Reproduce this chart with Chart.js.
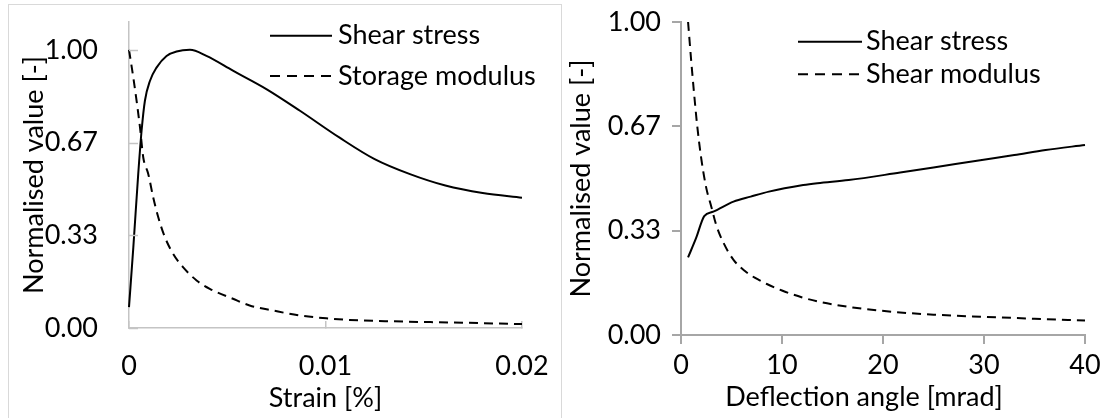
<!DOCTYPE html>
<html><head><meta charset="utf-8">
<script src="https://cdn.jsdelivr.net/npm/chart.js@4.4.0/dist/chart.umd.min.js"></script>
<style>
html,body{margin:0;padding:0;background:#fff;overflow:hidden;width:1104px;height:418px;}
#frame{position:absolute;left:8px;top:4px;width:552px;height:430px;border:1px solid #d9d9d9;border-bottom:none;}
#c1{position:absolute;left:0;top:0;}
#c2{position:absolute;left:560px;top:0;}
</style></head><body>
<div id="frame"></div>
<canvas id="c1" width="560" height="418"></canvas>
<canvas id="c2" width="544" height="418"></canvas>
<script>
// ---- Left panel data (strain sweep) ----
const strainStressX = [0, 0.00022, 0.00047, 0.00064, 0.00081, 0.00107, 0.0014, 0.00191, 0.00242, 0.0031, 0.00394, 0.00529, 0.00699, 0.0087, 0.0107, 0.0125, 0.0143, 0.0161, 0.018, 0.02];
const shearStressA  = [0.075, 0.29, 0.554, 0.709, 0.817, 0.889, 0.936, 0.978, 0.994, 1.0, 0.978, 0.925, 0.859, 0.781, 0.685, 0.607, 0.553, 0.512, 0.485, 0.468];
const strainModulusX = [0, 0.00022, 0.00056, 0.000726, 0.00098, 0.00123, 0.00149, 0.00183, 0.00225, 0.00276, 0.00344, 0.00411, 0.00529, 0.00614, 0.00733, 0.00868, 0.01004, 0.01122, 0.0134, 0.017, 0.02];
const storageModulus = [1.0, 0.9, 0.721, 0.613, 0.554, 0.47, 0.398, 0.326, 0.266, 0.218, 0.171, 0.141, 0.105, 0.081, 0.063, 0.045, 0.035, 0.029, 0.024, 0.019, 0.014];
const strainTicks = [0, 0.01, 0.02];
const strainTickLabels = ['0', '0.01', '0.02'];

// ---- Right panel data (deflection angle) ----
const angleStressX = [0.7, 1.5, 2.3, 3.2, 5.2, 6.9, 8.7, 12.1, 13.5, 16.6, 21.7, 25, 29.3, 33, 36.1, 40];
const shearStressB = [0.248, 0.31, 0.38, 0.394, 0.426, 0.442, 0.458, 0.479, 0.485, 0.495, 0.519, 0.535, 0.557, 0.575, 0.591, 0.607];
const angleModulusX = [0.7, 1.0, 1.3, 1.6, 2.0, 2.5, 3.0, 3.5, 4.2, 5.2, 6.3, 7.3, 8.5, 10, 12, 14, 17, 21, 25, 30, 35, 40];
const shearModulus  = [1.0, 0.88, 0.77, 0.67, 0.565, 0.47, 0.41, 0.35, 0.295, 0.24, 0.205, 0.183, 0.163, 0.142, 0.12, 0.104, 0.088, 0.074, 0.065, 0.058, 0.052, 0.046];
const angleTicks = [0, 10, 20, 30, 40];
const angleTickLabels = ['0', '10', '20', '30', '40'];

// ---- Shared y ticks ----
const yTickValues = [0, 0.3333, 0.6667, 1.0];
const yTickLabels = ['0.00', '0.33', '0.67', '1.00'];

const FONT = 'Lato';
const FS = 27;

const pts = (xs, ys) => xs.map((x, i) => ({x: x, y: ys[i]}));

const insideLegend = {
  id: 'insideLegend',
  afterDraw(chart, args, o) {
    const ctx = chart.ctx;
    ctx.save();
    chart.data.datasets.forEach((ds, i) => {
      const y = o.rows[i];
      ctx.beginPath();
      ctx.setLineDash(ds.borderDash && ds.borderDash.length ? o.dash : []);
      ctx.lineWidth = ds.borderWidth;
      ctx.strokeStyle = ds.borderColor;
      ctx.moveTo(o.x1, y); ctx.lineTo(o.x2, y); ctx.stroke();
      ctx.setLineDash([]);
      ctx.fillStyle = '#000';
      ctx.font = FS + 'px ' + FONT;
      ctx.textBaseline = 'middle';
      ctx.textAlign = 'left';
      ctx.fillText(ds.label, o.tx, y);
    });
    ctx.restore();
  }
};

const xTitle = {
  id: 'xTitle',
  afterDraw(chart, args, o) {
    const ctx = chart.ctx;
    const a = chart.chartArea;
    ctx.save();
    ctx.fillStyle = '#000';
    ctx.font = FS + 'px ' + FONT;
    ctx.textBaseline = 'middle';
    ctx.textAlign = 'center';
    ctx.fillText(o.text, (a.left + a.right) / 2 + o.dx, o.y);
    ctx.restore();
  }
};

// inner tick marks on the y axis (drawn from the axis into the plot)
const innerYTicks = {
  id: 'innerYTicks',
  afterDraw(chart, args, o) {
    if (!o || !o.len) return;
    const ctx = chart.ctx;
    const ys = chart.scales.y;
    const x0 = chart.chartArea.left;
    ctx.save();
    ctx.strokeStyle = o.color;
    ctx.lineWidth = o.width;
    yTickValues.forEach(v => {
      const py = Math.round(ys.getPixelForValue(v)) + 0.5;
      ctx.beginPath();
      ctx.moveTo(x0, py);
      ctx.lineTo(x0 + o.len, py);
      ctx.stroke();
    });
    ctx.restore();
  }
};

function makeChart(id, cfg) {
  const dsCommon = {borderColor: '#000', borderWidth: 2, pointRadius: 0, fill: false, cubicInterpolationMode: 'monotone', clip: 6};
  return new Chart(document.getElementById(id), {
    type: 'line',
    data: {
      datasets: [
        Object.assign({label: 'Shear stress', data: pts(cfg.sx, cfg.sy)}, dsCommon),
        Object.assign({label: cfg.modLabel, data: pts(cfg.mx, cfg.my), borderDash: [9, 6]}, dsCommon)
      ]
    },
    plugins: [innerYTicks, insideLegend, xTitle],
    options: {
      responsive: false,
      animation: false,
      devicePixelRatio: 1,
      layout: {padding: {left: 0, top: 22, right: cfg.padRight, bottom: 0}},
      plugins: {
        legend: {display: false},
        tooltip: {enabled: false},
        insideLegend: cfg.legend,
        xTitle: cfg.xTitle,
        innerYTicks: cfg.innerY
      },
      scales: {
        x: {
          type: 'linear', min: cfg.xMin, max: cfg.xMax,
          afterBuildTicks: s => { s.ticks = cfg.xTicks.map(v => ({value: v})); },
          afterFit: s => { s.height = cfg.xHeight; s.paddingLeft = 0; s.paddingRight = 0; s.paddingTop = 0; s.paddingBottom = 0; },
          ticks: {callback: (v, i) => cfg.xTickLabels[i], color: '#000', font: {family: FONT, size: FS}, padding: cfg.xPad, maxRotation: 0, autoSkip: false},
          grid: {drawOnChartArea: false, tickLength: cfg.xTl, color: cfg.axisColor, lineWidth: cfg.axisW},
          border: {color: cfg.axisColor, width: cfg.axisW}
        },
        y: {
          type: 'linear', min: 0, max: cfg.yMax,
          afterBuildTicks: s => { s.ticks = yTickValues.map(v => ({value: v})); },
          afterFit: s => { s.width = cfg.yWidth; s.paddingTop = 0; s.paddingBottom = 0; s.paddingLeft = 0; s.paddingRight = 0; },
          ticks: {callback: (v, i) => yTickLabels[i], color: '#000', font: {family: FONT, size: FS}, padding: cfg.yPad, autoSkip: false},
          grid: {drawOnChartArea: false, drawTicks: cfg.yDrawTicks, tickLength: cfg.yTl, color: cfg.axisColor, lineWidth: cfg.axisW},
          border: {color: cfg.axisColor, width: cfg.axisW},
          title: {display: true, text: 'Normalised value [-]', color: '#000', font: {family: FONT, size: FS}, padding: {top: cfg.yTitlePad, bottom: 0}}
        }
      }
    }
  });
}

makeChart('c1', {
  sx: strainStressX, sy: shearStressA, mx: strainModulusX, my: storageModulus,
  modLabel: 'Storage modulus',
  xMin: 0, xMax: 0.02, xTicks: strainTicks, xTickLabels: strainTickLabels,
  yMax: 1.1, padRight: 38, xHeight: 90, yWidth: 129,
  xPad: 28.8, xTl: -7, yPad: 31, yDrawTicks: false, yTl: 0, yTitlePad: 17.8,
  axisColor: '#c4c4c4', axisW: 1.5,
  innerY: {len: 9, color: '#c4c4c4', width: 1.5},
  legend: {x1: 270, x2: 332, tx: 338, rows: [35.7, 76], dash: [10, 7]},
  xTitle: {text: 'Strain [%]', dx: 0, y: 398}
});

makeChart('c2', {
  sx: angleStressX, sy: shearStressB, mx: angleModulusX, my: shearModulus,
  modLabel: 'Shear modulus',
  xMin: 0, xMax: 40, xTicks: angleTicks, xTickLabels: angleTickLabels,
  yMax: 1.0, padRight: 19, xHeight: 83, yWidth: 121,
  xPad: 4.8, xTl: 9, yPad: 11, yDrawTicks: true, yTl: 9, yTitlePad: 4.8,
  axisColor: '#a6a6a6', axisW: 2,
  innerY: {len: 0},
  legend: {x1: 238, x2: 302, tx: 306, rows: [41.7, 74.3], dash: [10, 7]},
  xTitle: {text: 'Deflection angle [mrad]', dx: -19, y: 397}
});
</script>
</body></html>
